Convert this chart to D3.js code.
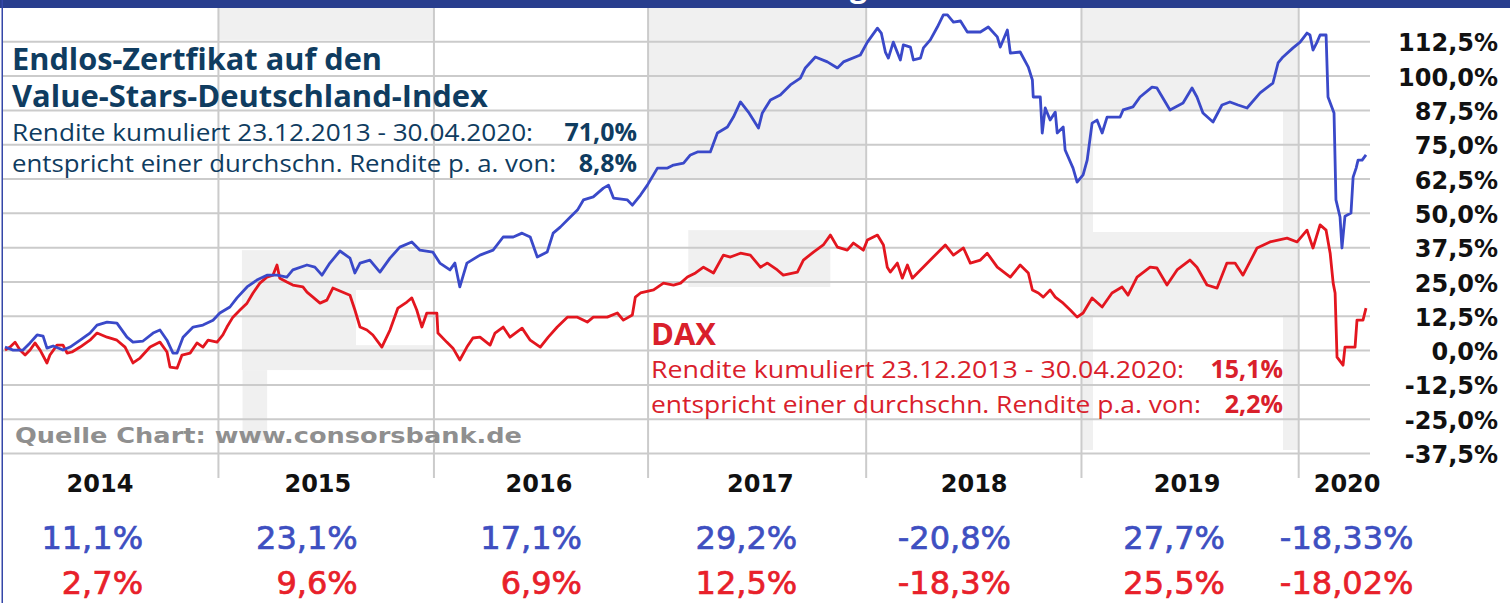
<!DOCTYPE html>
<html>
<head>
<meta charset="utf-8">
<script src="https://cdn.jsdelivr.net/npm/d3@7"></script>
<style>
    body { margin: 0; background: #fff; }
    svg { display: block; }
</style>
</head>
<body>
<div id="wrapper"></div>
<script>
// dates as decimal years, values as cumulative return in %
const certDates = [2013.975, 2014.013, 2014.059, 2014.092, 2014.125, 2014.153, 2014.171, 2014.2, 2014.246, 2014.279,
    2014.326, 2014.372, 2014.405, 2014.452, 2014.498, 2014.545, 2014.573, 2014.62, 2014.667, 2014.699,
    2014.732, 2014.76, 2014.779, 2014.807, 2014.854, 2014.9, 2014.947, 2014.979, 2015.026, 2015.059,
    2015.106, 2015.152, 2015.199, 2015.246, 2015.292, 2015.32, 2015.386, 2015.423, 2015.456, 2015.493,
    2015.54, 2015.587, 2015.61, 2015.634, 2015.68, 2015.727, 2015.774, 2015.82, 2015.876, 2015.914,
    2015.974, 2016.007, 2016.054, 2016.077, 2016.1, 2016.133, 2016.194, 2016.255, 2016.302, 2016.349,
    2016.39, 2016.428, 2016.461, 2016.507, 2016.535, 2016.568, 2016.615, 2016.648, 2016.676, 2016.722,
    2016.769, 2016.793, 2016.816, 2016.881, 2016.904, 2016.942, 2016.974, 2017.021, 2017.068, 2017.096,
    2017.143, 2017.175, 2017.208, 2017.268, 2017.301, 2017.348, 2017.376, 2017.409, 2017.446, 2017.493,
    2017.511, 2017.549, 2017.595, 2017.642, 2017.689, 2017.712, 2017.759, 2017.815, 2017.862, 2017.89,
    2017.969, 2018.002, 2018.049, 2018.067, 2018.086, 2018.1, 2018.123, 2018.156, 2018.17, 2018.203,
    2018.217, 2018.25, 2018.264, 2018.296, 2018.329, 2018.357, 2018.376, 2018.404, 2018.437, 2018.469,
    2018.53, 2018.567, 2018.609, 2018.623, 2018.656, 2018.67, 2018.716, 2018.754, 2018.773, 2018.777,
    2018.81, 2018.819, 2018.833, 2018.856, 2018.88, 2018.889, 2018.917, 2018.926, 2018.963, 2018.982,
    2019.01, 2019.029, 2019.052, 2019.075, 2019.099, 2019.122, 2019.183, 2019.197, 2019.243, 2019.276,
    2019.332, 2019.355, 2019.416, 2019.477, 2019.519, 2019.542, 2019.57, 2019.617, 2019.659, 2019.696,
    2019.734, 2019.776, 2019.837, 2019.897, 2019.921, 2019.944, 2019.991, 2020.024, 2020.056, 2020.07,
    2020.084, 2020.103, 2020.117, 2020.145, 2020.154, 2020.182, 2020.191, 2020.21, 2020.219, 2020.233,
    2020.261, 2020.271, 2020.285, 2020.294, 2020.313, 2020.331]
const certValues = [1.1, 0, 0, 2.6, 5.5, 5.1, 0.7, 1.5, 0, 1.1,
    3.6, 6.2, 9.1, 10.2, 9.8, 4.7, 2.9, 3.3, 6.2, 7.3,
    3.6, -1.1, -1.1, 4.7, 8.4, 9.1, 10.9, 13.5, 15.7, 19,
    23, 25.5, 27.3, 27.3, 26.6, 29.2, 31, 30.2, 27.3, 31.7,
    36.1, 33.5, 28.1, 31.7, 32.8, 28.4, 33.5, 37.5, 39.4, 36.4,
    35.7, 31.7, 29.2, 31.7, 23, 31.7, 34.6, 36.4, 41.2, 41.2,
    42.6, 41.2, 33.9, 35.7, 42.6, 44.8, 48.5, 51, 54.7, 55.8,
    59, 60.1, 55.4, 54.7, 52.8, 56.5, 60.1, 66.3, 66.3, 67.4,
    68.1, 71.1, 72.2, 72.2, 79.1, 81.3, 84.9, 90.4, 86.7, 80.9,
    86.4, 91.1, 92.9, 96.6, 99.1, 102.8, 106.8, 105, 102.8, 105,
    107.5, 112.2, 117.3, 115.5, 108.6, 106.4, 112.2, 105.7, 111.2, 110.4,
    105.7, 106.4, 110.1, 113, 117.7, 122.1, 122.1, 119.5, 119.9, 115.9,
    115.9, 117.7, 114.1, 110.4, 116.6, 108.2, 108.6, 103.1, 98.4, 92.2,
    92.2, 79.1, 88.2, 83.8, 86.7, 79.1, 81.3, 72.9, 66.3, 61.2,
    63.8, 69.2, 82.7, 83.8, 79.1, 84.9, 84.9, 87.5, 88.6, 92.2,
    95.8, 95.5, 87.5, 90, 95.5, 92.2, 86.4, 83.1, 89.3, 90.4,
    89.3, 88.2, 93.7, 97.3, 104.6, 106.8, 110.1, 112.2, 115.5, 114.8,
    109.3, 112.2, 114.8, 114.8, 92.2, 86.4, 54.7, 48.5, 37.2, 48.8,
    49.9, 63, 66.3, 69.2, 69.2, 71.1]

const daxDates = [2013.975, 2013.999, 2014.022, 2014.045, 2014.069, 2014.092, 2014.115, 2014.139, 2014.171, 2014.185,
    2014.218, 2014.246, 2014.265, 2014.288, 2014.326, 2014.372, 2014.405, 2014.452, 2014.498, 2014.536,
    2014.573, 2014.606, 2014.653, 2014.699, 2014.732, 2014.746, 2014.779, 2014.802, 2014.84, 2014.872,
    2014.9, 2014.924, 2014.966, 2014.993, 2015.012, 2015.04, 2015.073, 2015.106, 2015.134, 2015.166,
    2015.199, 2015.227, 2015.246, 2015.259, 2015.292, 2015.32, 2015.367, 2015.386, 2015.414, 2015.447,
    2015.479, 2015.507, 2015.54, 2015.587, 2015.61, 2015.634, 2015.666, 2015.694, 2015.736, 2015.774,
    2015.811, 2015.853, 2015.876, 2015.899, 2015.923, 2015.946, 2015.993, 2015.998, 2016.039, 2016.068,
    2016.1, 2016.133, 2016.161, 2016.194, 2016.241, 2016.264, 2016.302, 2016.334, 2016.39, 2016.428,
    2016.475, 2016.512, 2016.554, 2016.601, 2016.648, 2016.694, 2016.722, 2016.787, 2016.834, 2016.862,
    2016.904, 2016.918, 2016.942, 2017.003, 2017.049, 2017.096, 2017.129, 2017.161, 2017.199, 2017.236,
    2017.283, 2017.329, 2017.362, 2017.409, 2017.455, 2017.502, 2017.535, 2017.581, 2017.609, 2017.675,
    2017.703, 2017.75, 2017.796, 2017.829, 2017.862, 2017.908, 2017.937, 2017.983, 2018.002, 2018.049,
    2018.077, 2018.095, 2018.109, 2018.142, 2018.165, 2018.189, 2018.212, 2018.25, 2018.31, 2018.366,
    2018.404, 2018.451, 2018.483, 2018.53, 2018.562, 2018.609, 2018.67, 2018.716, 2018.754, 2018.773,
    2018.801, 2018.824, 2018.856, 2018.88, 2018.917, 2018.95, 2018.982, 2019.01, 2019.052, 2019.099,
    2019.145, 2019.192, 2019.22, 2019.262, 2019.323, 2019.355, 2019.402, 2019.449, 2019.509, 2019.542,
    2019.589, 2019.636, 2019.682, 2019.72, 2019.757, 2019.823, 2019.883, 2019.963, 2020.01, 2020.056,
    2020.084, 2020.117, 2020.145, 2020.164, 2020.178, 2020.187, 2020.196, 2020.224, 2020.233, 2020.28,
    2020.289, 2020.317, 2020.331]
const daxValues = [0, 1.1, 2.9, 0, -1.8, 0, 2.6, 0, -4.7, -1.8,
    1.8, 1.8, -1.1, -0.7, 1.1, 3.6, 6.2, 4.7, 3.6, 1.1,
    -4.7, -2.9, 1.1, 2.9, -0.7, -6.2, -6.6, -1.8, -1.1, 2.6,
    1.1, 3.6, 2.9, 5.5, 8.4, 12, 14.6, 17.1, 20.8, 24.4,
    26.6, 27.3, 31, 26.2, 24.8, 23.7, 23, 21.1, 19.3, 17.1,
    18.2, 22.6, 21.5, 20, 14.6, 8.4, 7.3, 5.5, 1.1, 7.3,
    15.3, 17.5, 19, 14.6, 8.4, 13.5, 13.5, 6.2, 2.9, 0.7,
    -3.6, 1.1, 4.4, 4.7, 1.8, 6.2, 8.4, 4.7, 8, 3.6,
    1.1, 4.7, 8.4, 12, 12, 10.2, 12, 12, 13.5, 10.9,
    12.8, 19.3, 20.8, 21.9, 24.4, 23.7, 24.4, 26.6, 28.1, 30.2,
    28.1, 34.6, 33.9, 35.3, 34.6, 30.2, 31.7, 29.2, 27.3, 28.4,
    32.8, 35.7, 38.3, 41.9, 37.5, 36.4, 39, 36.4, 40.1, 41.9,
    38.3, 30.2, 28.4, 31.7, 26.2, 31, 26.2, 29.2, 33.9, 38.3,
    34.6, 37.2, 31.7, 32.8, 35.3, 30.2, 26.6, 31, 28.1, 21.9,
    20.8, 19.3, 21.9, 19.3, 17.1, 14.6, 12, 13.5, 19, 15.7,
    20.8, 23, 20, 26.6, 30.2, 29.9, 23.7, 29.2, 32.8, 30.2,
    23.7, 22.6, 31.7, 31.7, 27.3, 37.2, 39.4, 40.8, 39.4, 43.7,
    37.2, 45.6, 43.7, 35.3, 24.4, 20.8, -2.6, -5.5, 1.1, 1.1,
    10.9, 10.9, 15.3]

const yTicks = [-37.5, -25, -12.5, 0, 12.5, 25, 37.5, 50, 62.5, 75, 87.5, 100, 112.5]
const yearLineDates = [2014.97, 2015.977, 2016.975, 2017.994, 2019.0, 2020.015]

const years = ["2014", "2015", "2016", "2017", "2018", "2019", "2020"]
const yearLabelDates = [2014.419, 2015.437, 2016.469, 2017.502, 2018.501, 2019.496, 2020.243]
const certYearReturns = ["11,1%", "23,1%", "17,1%", "29,2%", "-20,8%", "27,7%", "-18,33%"]
const daxYearReturns = ["2,7%", "9,6%", "6,9%", "12,5%", "-18,3%", "25,5%", "-18,02%"]
const returnColumnDates = [2014.62, 2015.623, 2016.669, 2017.674, 2018.673, 2019.673, 2020.552]

const blueText = "#0f3c60"
const redText = "#d9202b"

function toDate(t) {
    const y = Math.floor(t)
    const a = new Date(y, 0, 1), b = new Date(y + 1, 0, 1)
    return new Date(+a + (t - y) * (b - a))
}

function drawChart() {
    const dimensions = {width: 1510, height: 603}
    const svg = d3.select("#wrapper").append("svg")
        .attr("width", dimensions.width)
        .attr("height", dimensions.height)
    const xScale = d3.scaleTime()
        .domain([toDate(2013.975), toDate(2020.331)])
        .range([5, 1366])
    const yScale = d3.scaleLinear()
        .domain([-37.5, 125])
        .range([453, 7])
    drawBackground(svg, xScale, yScale)
    drawGrid(svg, xScale, yScale)
    drawLines(svg, xScale, yScale)
    drawYAxis(svg, yScale)
    drawTexts(svg)
    drawTable(svg, xScale)
    drawFrame(svg)
}

function drawBackground(svg, xScale, yScale) {
    // remains of the grey year bands of the source chart: [t0, t1, vTop, vBottom]
    const patches = [
        [2014.97, 2015.977, 125, 113],
        [2015.082, 2015.977, 36.4, 21.9],
        [2015.082, 2015.615, 21.9, -7.3],
        [2015.615, 2015.977, 1.8, -7.3],
        [2015.085, 2015.2, -7.3, -33],
        [2016.975, 2017.994, 125, 62],
        [2017.165, 2017.829, 43.7, 23],
        [2019.0, 2020.015, 125, 87.5],
        [2019.0, 2019.056, 87.5, -36.4],
        [2019.944, 2020.015, 87.5, -36.4],
        [2019.056, 2019.944, 43, 12.8],
    ]
    svg.append("g").selectAll("rect")
        .data(patches)
        .join("rect")
        .attr("x", d => xScale(toDate(d[0])))
        .attr("width", d => xScale(toDate(d[1])) - xScale(toDate(d[0])))
        .attr("y", d => yScale(d[2]))
        .attr("height", d => yScale(d[3]) - yScale(d[2]))
        .attr("fill", "#f0f0f0")
}

function drawGrid(svg, xScale, yScale) {
    const hGrid = svg.append("g")
        .attr("transform", "translate(2,0)")
        .call(d3.axisRight(yScale).tickValues(yTicks).tickSize(1368).tickFormat(""))
    hGrid.select(".domain").remove()
    hGrid.selectAll("line").attr("stroke", "#cbcbcb").attr("stroke-width", 2)

    const vGrid = svg.append("g")
        .attr("transform", "translate(0,7)")
        .call(d3.axisBottom(xScale).tickValues(yearLineDates.map(toDate)).tickSize(471).tickFormat(""))
    vGrid.select(".domain").remove()
    vGrid.selectAll("line").attr("stroke", "#cbcbcb").attr("stroke-width", 2)
}

function drawLines(svg, xScale, yScale) {
    const lineGenerator = d3.line()
        .x(d => xScale(toDate(d[0])))
        .y(d => yScale(d[1]))
    const series = [
        {dates: daxDates, values: daxValues, color: "#e3161f"},
        {dates: certDates, values: certValues, color: "#3a49c9"},
    ]
    series.forEach(s => {
        svg.append("path")
            .attr("d", lineGenerator(d3.zip(s.dates, s.values)))
            .attr("fill", "none")
            .attr("stroke", s.color)
            .attr("stroke-width", 2.8)
            .attr("stroke-linejoin", "round")
    })
}

function drawYAxis(svg, yScale) {
    const locale = d3.formatLocale({decimal: ",", thousands: ".", grouping: [3], currency: ["", "€"], minus: "-"})
    const fmt = locale.format(".1f")
    const axis = svg.append("g")
        .attr("transform", "translate(1498,0)")
        .call(d3.axisLeft(yScale).tickValues(yTicks).tickSize(0).tickPadding(0).tickFormat(d => fmt(d) + "%"))
    axis.select(".domain").remove()
    axis.selectAll("text")
        .attr("font-family", "DejaVu Sans")
        .attr("font-weight", "bold")
        .attr("font-size", 24)
        .attr("fill", "#111")
        .attr("dy", "0.4em")
}

function addText(svg, o) {
    const t = svg.append("text")
        .attr("x", o.x)
        .attr("y", o.y)
        .attr("font-family", o.family || "Open Sans")
        .attr("font-weight", o.weight || "normal")
        .attr("font-size", o.size)
        .attr("fill", o.fill)
        .attr("text-anchor", o.anchor || "start")
        .text(o.text)
    if (o.width) t.attr("textLength", o.width).attr("lengthAdjust", "spacingAndGlyphs")
    return t
}

function drawTexts(svg) {
    addText(svg, {x: 12, y: 70, text: "Endlos-Zertfikat auf den", size: 30, weight: "bold", fill: blueText, width: 370})
    addText(svg, {x: 12, y: 107, text: "Value-Stars-Deutschland-Index", size: 30, weight: "bold", fill: blueText, width: 476})
    addText(svg, {x: 12, y: 141, text: "Rendite kumuliert 23.12.2013 - 30.04.2020:", size: 24, fill: blueText, width: 521})
    addText(svg, {x: 637, y: 141, text: "71,0%", size: 25, weight: "bold", fill: blueText, anchor: "end"})
    addText(svg, {x: 12, y: 172, text: "entspricht einer durchschn. Rendite p. a. von:", size: 24, fill: blueText, width: 544})
    addText(svg, {x: 637, y: 172, text: "8,8%", size: 25, weight: "bold", fill: blueText, anchor: "end"})

    addText(svg, {x: 651, y: 345, text: "DAX", size: 31, weight: "bold", fill: redText})
    addText(svg, {x: 651, y: 378, text: "Rendite kumuliert 23.12.2013 - 30.04.2020:", size: 24, fill: redText, width: 533})
    addText(svg, {x: 1283, y: 378, text: "15,1%", size: 25, weight: "bold", fill: redText, anchor: "end"})
    addText(svg, {x: 651, y: 413, text: "entspricht einer durchschn. Rendite p.a. von:", size: 24, fill: redText, width: 550})
    addText(svg, {x: 1283, y: 413, text: "2,2%", size: 25, weight: "bold", fill: redText, anchor: "end"})

    addText(svg, {x: 15, y: 443, text: "Quelle Chart: www.consorsbank.de", size: 21, weight: "bold",
        family: "DejaVu Sans", fill: "#8f8f8f", width: 507})
}

function drawTable(svg, xScale) {
    svg.append("g").selectAll("text")
        .data(years)
        .join("text")
        .attr("x", (d, i) => xScale(toDate(yearLabelDates[i])))
        .attr("y", 492)
        .attr("text-anchor", "middle")
        .attr("font-family", "DejaVu Sans")
        .attr("font-weight", "bold")
        .attr("font-size", 24)
        .attr("fill", "#111")
        .text(d => d)
    const rows = [
        {values: certYearReturns, y: 549, color: "#3e4fc1"},
        {values: daxYearReturns, y: 594, color: "#e8202a"},
    ]
    rows.forEach(r => {
        svg.append("g").selectAll("text")
            .data(r.values)
            .join("text")
            .attr("x", (d, i) => xScale(toDate(returnColumnDates[i])))
            .attr("y", r.y)
            .attr("text-anchor", "end")
            .attr("font-family", "DejaVu Sans")
            .attr("font-size", 32)
            .attr("fill", r.color)
            .attr("stroke", r.color)
            .attr("stroke-width", 0.7)
            .text(d => d)
    })
}

function drawFrame(svg) {
    svg.append("rect")
        .attr("x", 0).attr("y", 0)
        .attr("width", 1510).attr("height", 8)
        .attr("fill", "#283e8e")
    // descender of a cut-off heading in the top bar
    addText(svg, {x: 850, y: -3, text: "g", size: 30, weight: "bold", fill: "#ffffff"})
    svg.append("rect")
        .attr("x", 1.5).attr("y", 0)
        .attr("width", 1.5).attr("height", 603)
        .attr("fill", "#3447a8")
}

drawChart()
</script>
</body>
</html>
